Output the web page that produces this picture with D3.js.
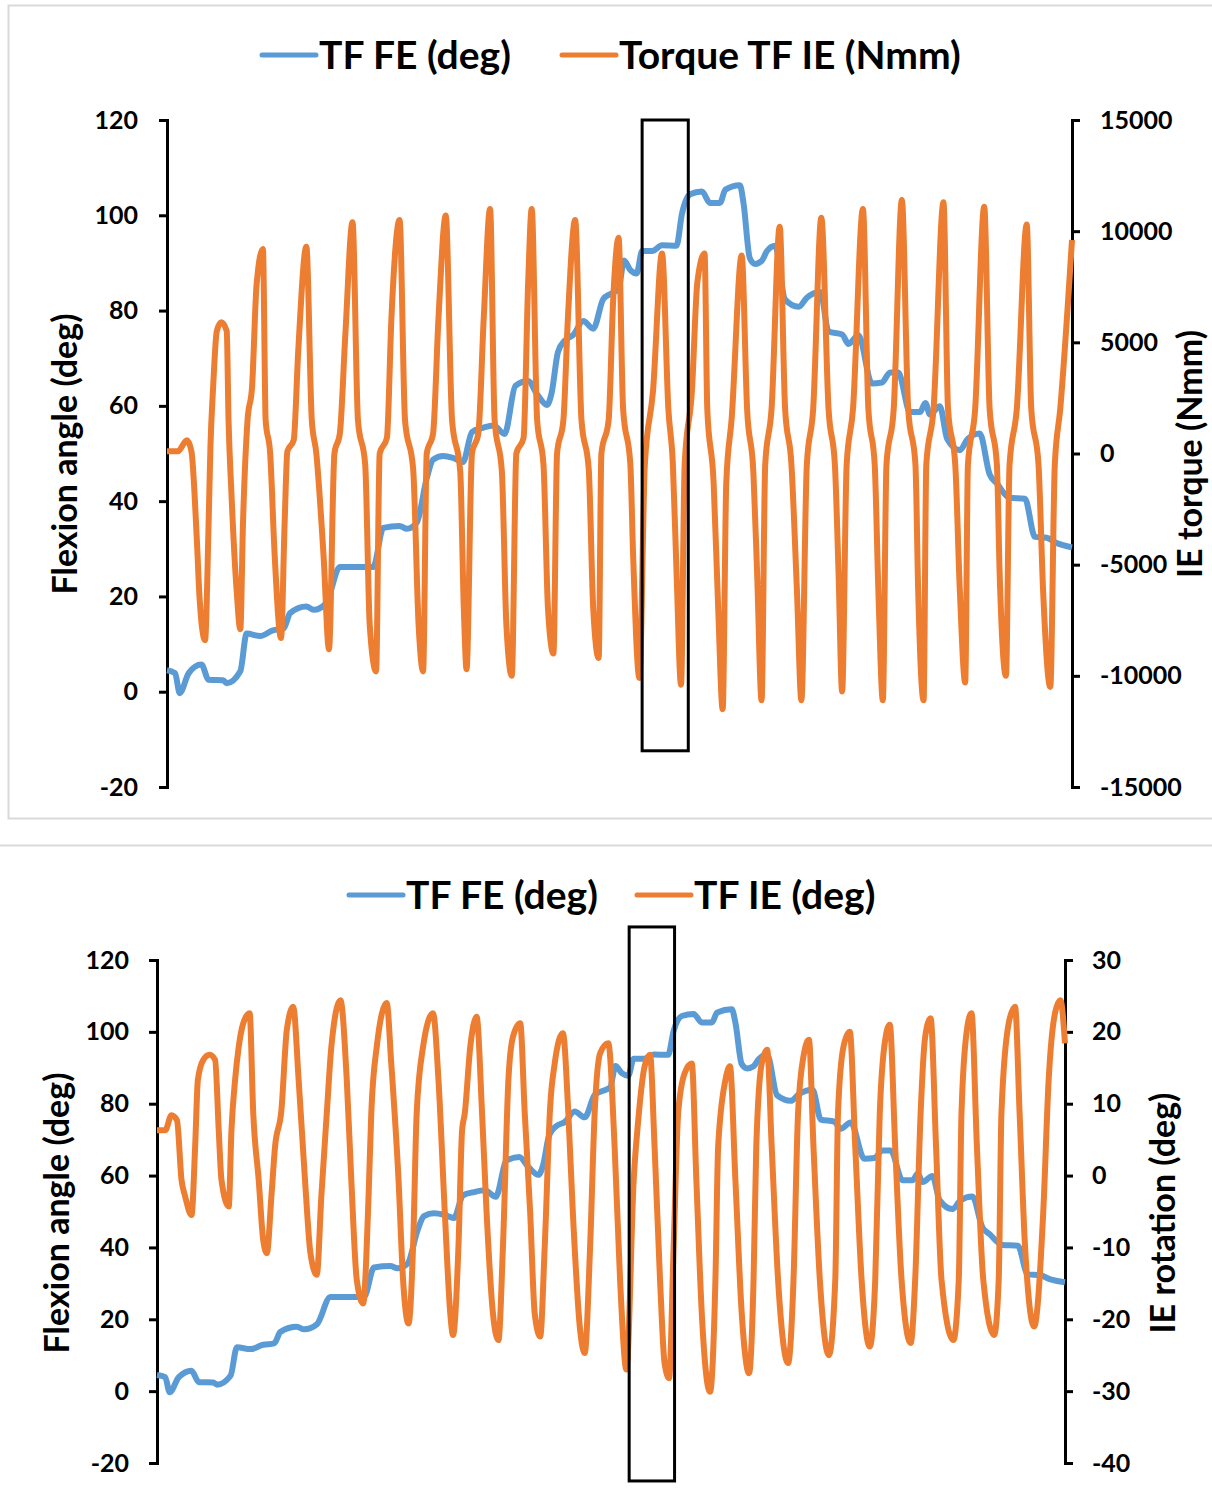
<!DOCTYPE html>
<html>
<head>
<meta charset="utf-8">
<script src="https://cdn.jsdelivr.net/npm/d3@7"></script>
<style>
body { margin: 0; background: #fff; }
svg { display: block; font-family: Lato, "Open Sans", sans-serif; }
.axis path, .axis line { stroke: #000; stroke-width: 3; }
.axis text { font-family: Lato, sans-serif; font-size: 25px; font-weight: 700; fill: #000; }
.title { font-size: 34px; font-weight: 700; fill: #000; }
.legend { font-size: 39px; font-weight: 700; fill: #000; }
</style>
</head>
<body>
<script>
// tick labels
var angleTicks = [-20, 0, 20, 40, 60, 80, 100, 120];
var torqueTicks = [-15000, -10000, -5000, 0, 5000, 10000, 15000];
var rotTicks = [-40, -30, -20, -10, 0, 10, 20, 30];

// flexion angle (deg) vs time (% of trial), same trace in both panels
var feSeries = [[0,4.5],[0.9,3.9],[1.4,-0.3],[2.4,3.9],[3.8,5.7],[4.6,2.5],[6.2,2.4],[6.6,1.8],[8.1,4.3],[8.8,12.2],
  [10.3,11.7],[11.7,12.9],[12.9,13.3],[13.6,16.5],[15.4,17.9],[16.2,17.2],[17.6,18.6],[19.1,26.2],[21.3,26.2],[22.8,26.2],
  [23.9,34.4],[25.7,34.8],[26.5,34.2],[27.6,35.5],[28.7,44.8],[29.4,48.7],[30.5,49.5],[31.6,49.1],[32.7,48.2],[33.7,54.5],
  [34.9,55.4],[36.1,55.9],[37.3,54.1],[38.5,64.2],[39.9,65.2],[40.9,62.4],[42.0,60.2],[42.5,62.7],[43.2,71.3],[44.0,73.8],
  [44.9,74.9],[46.0,77.8],[47.1,76.2],[48.2,82.4],[49.0,83.5],[49.9,84.5],[50.5,90.5],[51.2,88.5],[51.9,87.8],[52.5,92.5],
  [53.6,92.5],[54.7,93.7],[56.3,93.6],[56.9,100.3],[57.8,104.4],[59.1,105],[60.0,102.6],[61.1,102.6],[61.7,105.4],[63.3,106.3],
  [63.7,102.6],[64.4,91],[65.0,89.8],[65.7,90.4],[66.3,92.5],[67.2,93.6],[68.3,82.3],[69.8,80.8],[70.7,82.7],[72.2,83.9],
  [73.1,75.6],[74.6,75],[75.3,73],[76.4,74.8],[77.9,64.7],[79.0,64.9],[79.9,67],[80.8,67],[82.1,58.7],[83.2,58.7],
  [83.8,60.6],[84.3,58.2],[85.4,59.9],[86.2,53.1],[87.6,50.7],[88.5,53.1],[89.8,54.2],[90.9,45.6],[91.7,43.7],[93.1,40.7],
  [94.8,40.5],[95.9,32.5],[97.2,32.3],[98.3,31.2],[100,30.3]];

// TF IE torque (Nmm)
var torqueSeries = [[0,100],[1.2,100],[2.2,600],[2.7,100],[3.3,-3900],[3.6,-6500],[4.2,-8400],[4.6,-3100],[4.8,300],[5.1,3000],
  [5.5,5500],[6.0,5900],[6.6,5500],[6.8,1500],[7.1,-1600],[7.7,-6200],[8.1,-7900],[8.4,-3100],[8.9,1500],[9.4,3000],
  [9.9,7600],[10.6,9200],[10.9,1500],[11.4,0],[11.9,-4600],[12.6,-8300],[13.0,-3100],[13.3,100],[14.0,600],[14.5,4600],
  [15.4,9300],[16.0,1500],[16.5,0],[17.3,-4600],[17.9,-8800],[18.5,0],[19.1,900],[19.7,5300],[20.5,10400],[21.1,1500],
  [21.9,-500],[22.4,-7700],[23.1,-9800],[23.5,0],[24.3,700],[24.8,6100],[25.7,10500],[26.3,1500],[27.2,-700],[27.8,-7700],
  [28.3,-9800],[28.7,0],[29.4,900],[30.0,6100],[30.8,10700],[31.5,1500],[32.4,-800],[32.8,-7000],[33.1,-9700],[33.7,0],
  [34.4,900],[35.0,6100],[35.7,11000],[36.2,1500],[37.0,-800],[37.5,-7700],[38.1,-10000],[38.6,0],[39.4,700],[39.9,7600],
  [40.3,11000],[40.9,1500],[41.6,-500],[42.1,-7000],[42.7,-9000],[43.1,0],[43.8,1500],[44.3,6100],[45.1,10500],[45.8,1500],
  [46.6,-700],[47.1,-7000],[47.7,-9200],[48.0,0],[48.8,1500],[49.3,6900],[49.9,9700],[50.4,2000],[51.2,-500],[51.5,-4500],
  [52.2,-10100],[52.8,-500],[53.7,2800],[54.7,9000],[55.4,2000],[55.9,-500],[56.3,-5300],[56.8,-10400],[57.2,-500],[58.0,2800],
  [58.6,7700],[59.4,9000],[59.7,2000],[60.4,-1300],[60.9,-6900],[61.4,-11500],[61.8,-1300],[62.4,1600],[63.5,8900],[64.1,2000],
  [64.8,-900],[65.2,-5300],[65.7,-11100],[66.1,-500],[66.8,2000],[67.7,10200],[68.3,2000],[69.0,-500],[69.6,-6100],[70.1,-11100],
  [70.7,-500],[71.4,2000],[72.3,10600],[73.1,2000],[73.8,-500],[74.2,-5300],[74.6,-10700],[75.1,-500],[75.8,2000],[76.9,11000],
  [77.5,2000],[78.2,-500],[78.6,-6100],[79.1,-11100],[79.5,-500],[80.3,2000],[81.2,11400],[81.9,2000],[82.7,-500],[83.0,-6100],
  [83.6,-11100],[83.9,-500],[84.7,2000],[85.8,11300],[86.3,2000],[87.1,-500],[87.6,-6100],[88.2,-10300],[88.5,-500],[89.3,2000],
  [90.3,11100],[90.9,2000],[91.7,-500],[92.0,-5300],[92.7,-10000],[93.1,-500],[93.9,2000],[95.0,10300],[95.5,2000],[96.3,-500],
  [96.8,-6100],[97.6,-10500],[98.1,-500],[98.7,2000],[100,9600]];

// TF IE rotation (deg)
var ieSeries = [[0,6.3],[0.9,6.3],[1.6,8.4],[2.2,7.7],[2.7,-0.6],[3.1,-2.9],[3.8,-5.5],[4.2,4.0],[4.5,13.3],[5.1,16.1],
  [5.8,16.8],[6.4,16.1],[6.8,6.3],[7.1,-0.6],[7.9,-4.3],[8.2,6.3],[8.6,13.3],[9.0,17.9],[9.5,21.2],[10.2,22.6],
  [10.6,8.7],[11.2,-0.6],[11.7,-9.0],[12.1,-10.8],[12.6,-2.9],[13.0,4.0],[13.7,9.1],[14.3,20.3],[15.0,23.5],[15.6,13.3],
  [16.3,-0.6],[16.9,-10.8],[17.6,-13.8],[18.1,-2.9],[18.7,8.7],[19.2,17.9],[20.2,24.4],[20.9,13.3],[21.4,-0.6],[22.0,-14.5],
  [22.7,-17.8],[23.3,-2.9],[23.6,8.7],[24.2,17.9],[25.3,24.0],[25.8,15.6],[26.6,-0.6],[27.1,-14.5],[27.7,-20.6],[28.2,-9.9],
  [28.6,8.7],[29.3,17.9],[30.4,22.6],[31.0,13.3],[31.7,-5.2],[32.3,-19.2],[32.6,-22.2],[33.2,-9.9],[33.6,6.3],[33.9,8.7],
  [34.5,17.9],[35.2,22.1],[35.8,8.7],[36.3,-5.2],[37.0,-19.2],[37.6,-22.9],[38.1,-9.9],[38.7,13.3],[39.2,19.3],[40.0,21.2],
  [40.5,8.7],[41.1,-5.2],[41.6,-19.2],[42.2,-22.4],[42.7,-9.9],[43.3,9.6],[43.8,15.6],[44.7,19.8],[45.3,8.7],[45.8,-5.2],
  [46.6,-21.5],[47.1,-24.7],[47.7,-9.9],[48.2,8.7],[48.8,17.0],[49.7,18.4],[50.4,4.0],[51.0,-14.5],[51.7,-27.0],[52.5,-0.6],
  [53.0,7.7],[53.7,15.2],[54.3,16.8],[54.8,4.0],[55.4,-14.5],[55.9,-26.1],[56.4,-28.2],[56.9,-9.9],[57.4,8.7],[58.1,14.2],
  [58.9,15.6],[59.4,-0.6],[60.0,-19.2],[60.9,-30.1],[61.5,-14.5],[61.8,4.0],[62.6,13.3],[63.1,15.2],[63.7,-0.6],[64.4,-19.2],
  [65.2,-27.5],[65.7,-14.5],[66.0,4.0],[66.6,15.6],[67.2,17.5],[67.7,4.0],[68.4,-14.5],[69.5,-26.1],[70.1,-14.5],[70.6,8.7],
  [71.2,16.6],[71.8,18.9],[72.3,4.0],[73.0,-14.5],[74.0,-25.0],[74.7,-14.5],[75.0,8.7],[75.6,17.9],[76.3,20.0],[76.9,4.0],
  [77.6,-14.5],[78.5,-23.8],[79.1,-14.5],[79.6,8.7],[80.2,18.9],[80.7,21.0],[81.3,4.0],[82.0,-14.5],[83.0,-23.3],[83.5,-14.5],
  [84.1,8.7],[84.6,19.3],[85.2,21.9],[85.8,4.0],[86.4,-14.5],[87.7,-22.9],[88.3,-14.5],[88.6,8.7],[89.2,20.3],[89.7,22.6],
  [90.3,4.0],[91.0,-14.5],[92.2,-22.2],[92.7,-14.5],[93.0,8.7],[93.8,21.2],[94.5,23.5],[95.0,8.7],[95.6,-9.9],[96.6,-21.0],
  [97.6,-5.2],[98.2,13.3],[98.9,22.6],[99.5,24.4],[100,18.4]];

// highlighted window [t0, t1, angleTop, angleBottom] for each panel
var boxTop = [52.5, 57.6, 120, -12.4];
var boxBottom = [52.0, 57.0, 129.2, -25.0];

var blue = "#5B9BD5", orange = "#ED7D31";

var svg = d3.select("body")
    .append("svg")
    .attr("width", 1212)
    .attr("height", 1490);

//panel frames
svg.append("rect")
    .attr("x", 8.5).attr("y", 5.5)
    .attr("width", 1220).attr("height", 813)
    .attr("fill", "none").attr("stroke", "#d9d9d9").attr("stroke-width", 2);
svg.append("rect")
    .attr("x", -5).attr("y", 845.5)
    .attr("width", 1230).attr("height", 700)
    .attr("fill", "none").attr("stroke", "#d9d9d9").attr("stroke-width", 2);

function drawPanel(p){
    var x = d3.scaleLinear().domain([0, 100]).range([p.x0, p.x1]);
    var yL = d3.scaleLinear().domain([-20, 120]).range([p.yB, p.yT]);
    var yR = d3.scaleLinear().domain(p.rDomain).range([p.yB, p.yT]);
    var g = svg.append("g");

    //left axis
    g.append("g")
        .attr("class", "axis")
        .attr("transform", "translate(" + p.x0 + ",0)")
        .call(d3.axisLeft(yL).tickValues(angleTicks).tickSize(8).tickSizeOuter(0)
            .tickPadding(p.padL).tickFormat(function(d){ return String(d); }));

    //right axis
    g.append("g")
        .attr("class", "axis")
        .attr("transform", "translate(" + p.x1 + ",0)")
        .call(d3.axisRight(yR).tickValues(p.rTicks).tickSize(8).tickSizeOuter(0)
            .tickPadding(p.padR).tickFormat(function(d){ return String(d); }));

    g.selectAll(".axis .domain").attr("stroke-linecap", "square");

    //axis titles
    g.append("text")
        .attr("class", "title")
        .attr("text-anchor", "middle")
        .attr("transform", "translate(" + p.titleL + "," + p.titleY + ") rotate(-90)")
        .text("Flexion angle (deg)");
    g.append("text")
        .attr("class", "title")
        .attr("text-anchor", "middle")
        .attr("transform", "translate(" + p.titleR + "," + p.titleY + ") rotate(-90)")
        .text(p.rTitle);

    //series
    var feLine = d3.line()
        .x(function(d){ return x(d[0]); })
        .y(function(d){ return yL(d[1]); })
        .curve(d3.curveMonotoneX);
    var rLine = d3.line()
        .x(function(d){ return x(d[0]); })
        .y(function(d){ return yR(d[1]); })
        .curve(d3.curveMonotoneX);

    g.append("path")
        .datum(feSeries)
        .attr("d", feLine)
        .attr("fill", "none").attr("stroke", blue)
        .attr("stroke-width", 6).attr("stroke-linejoin", "round");
    g.append("path")
        .datum(p.rSeries)
        .attr("d", rLine)
        .attr("fill", "none").attr("stroke", orange)
        .attr("stroke-width", 6).attr("stroke-linejoin", "round");

    //highlight box
    g.append("rect")
        .attr("x", x(p.box[0]))
        .attr("y", yL(p.box[2]))
        .attr("width", x(p.box[1]) - x(p.box[0]))
        .attr("height", yL(p.box[3]) - yL(p.box[2]))
        .attr("fill", "none").attr("stroke", "#000").attr("stroke-width", 3);

    //legend
    var items = [
        {name: "TF FE (deg)", color: blue, x: p.legX[0]},
        {name: p.rLegend, color: orange, x: p.legX[1]}
    ];
    var leg = g.selectAll(".leg")
        .data(items)
        .enter()
        .append("g")
        .attr("class", "leg")
        .attr("transform", function(d){ return "translate(" + d.x + "," + p.legY + ")"; });
    leg.append("line")
        .attr("x1", 0).attr("x2", 54)
        .attr("stroke", function(d){ return d.color; })
        .attr("stroke-width", 5).attr("stroke-linecap", "round");
    leg.append("text")
        .attr("class", "legend")
        .attr("x", 57).attr("y", 14)
        .text(function(d){ return d.name; });
}

drawPanel({
    x0: 167, x1: 1072, yT: 120, yB: 787,
    rDomain: [-15000, 15000], rTicks: torqueTicks, rSeries: torqueSeries,
    padL: 21, padR: 20,
    titleL: 77, titleR: 1202, titleY: 454,
    rTitle: "IE torque (Nmm)", rLegend: "Torque TF IE (Nmm)",
    box: boxTop, legX: [262, 562], legY: 55
});

drawPanel({
    x0: 157, x1: 1065, yT: 960, yB: 1463,
    rDomain: [-40, 30], rTicks: rotTicks, rSeries: ieSeries,
    padL: 20, padR: 19,
    titleL: 69, titleR: 1175, titleY: 1213,
    rTitle: "IE rotation (deg)", rLegend: "TF IE (deg)",
    box: boxBottom, legX: [349, 637], legY: 895
});
</script>
</body>
</html>
